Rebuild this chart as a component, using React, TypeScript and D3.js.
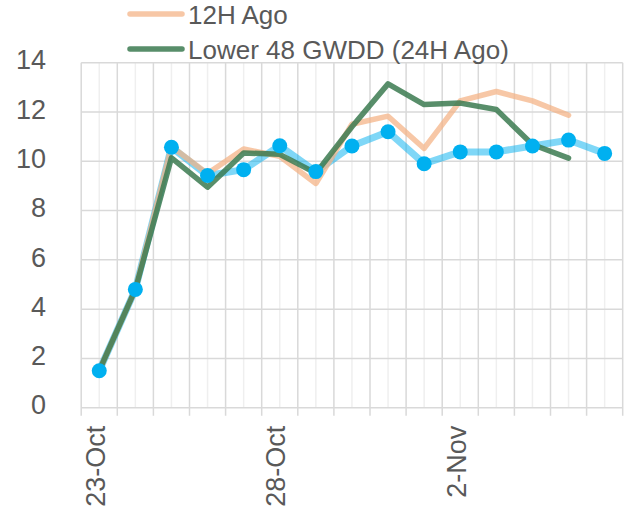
import * as d3 from 'd3';
import React, { useRef, useEffect } from 'react';

const dates = ['23-Oct', '24-Oct', '25-Oct', '26-Oct', '27-Oct', '28-Oct', '29-Oct', '30-Oct',
  '31-Oct', '1-Nov', '2-Nov', '3-Nov', '4-Nov', '5-Nov', '6-Nov'];
const tickLabels = ['23-Oct', '28-Oct', '2-Nov'];
const yTicks = [0, 2, 4, 6, 8, 10, 12, 14];

// latest run (markers)
const latest = [1.5, 4.8, 10.57, 9.42, 9.66, 10.63, 9.58, 10.62, 11.2, 9.9, 10.38, 10.38, 10.62, 10.86, 10.32];
// 12H ago
const ago12 = [1.5, 4.8, 10.6, 9.5, 10.5, 10.2, 9.1, 11.5, 11.83, 10.52, 12.45, 12.83, 12.45, 11.87, null];
// 24H ago
const ago24 = [1.5, 4.8, 10.14, 8.95, 10.34, 10.28, 9.52, 11.4, 13.14, 12.3, 12.36, 12.1, 10.68, 10.13, null];

const W = 635, H = 520;
const FONT = 'Liberation Sans, Arial, sans-serif';

function Chart() {
  const ref = useRef(null);

  useEffect(() => {
    const svg = d3.select(ref.current);
    svg.selectAll('*').remove();

    const x = d3.scaleBand().domain(dates).range([81.2, 622.7]);
    const y = d3.scaleLinear().domain([0, 14]).range([407.7, 62.7]);
    const cx = (d) => x(d) + x.bandwidth() / 2;

    // minor vertical gridlines at category centres
    svg.append('g').selectAll('line').data(dates).join('line')
      .attr('x1', d => cx(d)).attr('x2', d => cx(d))
      .attr('y1', y(14)).attr('y2', y(0))
      .attr('stroke', '#efefef').attr('stroke-width', 1.5);

    // major vertical gridlines at boundaries
    const bounds = dates.map(d => x(d)).concat([x.range()[1]]);
    svg.append('g').selectAll('line').data(bounds).join('line')
      .attr('x1', d => d).attr('x2', d => d)
      .attr('y1', y(14)).attr('y2', y(0) + 8)
      .attr('stroke', '#d9d9d9').attr('stroke-width', 1.5);

    // horizontal gridlines
    svg.append('g').selectAll('line').data(yTicks).join('line')
      .attr('x1', x.range()[0]).attr('x2', x.range()[1])
      .attr('y1', d => y(d)).attr('y2', d => y(d))
      .attr('stroke', '#d9d9d9').attr('stroke-width', 1.5);

    // y labels
    svg.append('g').selectAll('text').data(yTicks).join('text')
      .attr('x', 46).attr('y', d => y(d))
      .attr('dy', '0.25em')
      .attr('text-anchor', 'end')
      .attr('font-family', FONT).attr('font-size', 27).attr('fill', '#595959')
      .text(d => d);

    // x labels
    svg.append('g').selectAll('text').data(tickLabels).join('text')
      .attr('transform', d => `translate(${cx(d) - 4},${y(0) + 18}) rotate(-90)`)
      .attr('dy', '0.35em')
      .attr('text-anchor', 'end')
      .attr('font-family', FONT).attr('font-size', 27).attr('fill', '#595959')
      .text(d => d);

    const line = (vals) => d3.line()
      .defined(d => d[1] != null)
      .x(d => cx(d[0]))
      .y(d => y(d[1]))(dates.map((d, i) => [d, vals[i]]));

    svg.append('path').attr('d', line(latest))
      .attr('fill', 'none').attr('stroke', '#00b0f0').attr('stroke-opacity', 0.5)
      .attr('stroke-width', 7).attr('stroke-linejoin', 'round');

    svg.append('path').attr('d', line(ago12))
      .attr('fill', 'none').attr('stroke', '#f4b183').attr('stroke-opacity', 0.72)
      .attr('stroke-width', 5.5).attr('stroke-linejoin', 'round').attr('stroke-linecap', 'round');

    svg.append('path').attr('d', line(ago24))
      .attr('fill', 'none').attr('stroke', '#3b7a50').attr('stroke-opacity', 0.85)
      .attr('stroke-width', 5.5).attr('stroke-linejoin', 'round').attr('stroke-linecap', 'round');

    svg.append('g').selectAll('circle').data(latest).join('circle')
      .attr('cx', (d, i) => cx(dates[i])).attr('cy', d => y(d))
      .attr('r', 7.5).attr('fill', '#00b0f0');

    // legend
    const legend = [
      { name: '12H Ago', color: '#f4b183', op: 0.72, ly: 14 },
      { name: 'Lower 48 GWDD (24H Ago)', color: '#3b7a50', op: 0.85, ly: 49 },
    ];
    const lg = svg.append('g');
    lg.selectAll('line').data(legend).join('line')
      .attr('x1', 130).attr('x2', 182)
      .attr('y1', d => d.ly).attr('y2', d => d.ly)
      .attr('stroke', d => d.color).attr('stroke-opacity', d => d.op)
      .attr('stroke-width', 5.5).attr('stroke-linecap', 'round');
    lg.selectAll('text').data(legend).join('text')
      .attr('x', 188).attr('y', d => d.ly + 1)
      .attr('dy', '0.35em')
      .attr('font-family', FONT).attr('font-size', 26).attr('fill', '#595959')
      .text(d => d.name);
  }, []);

  return <svg ref={ref} width={W} height={H}></svg>;
}

export default function App() {
  return (
    <div style={{ position: 'absolute', left: 0, top: 0 }}>
      <Chart />
    </div>
  );
}
